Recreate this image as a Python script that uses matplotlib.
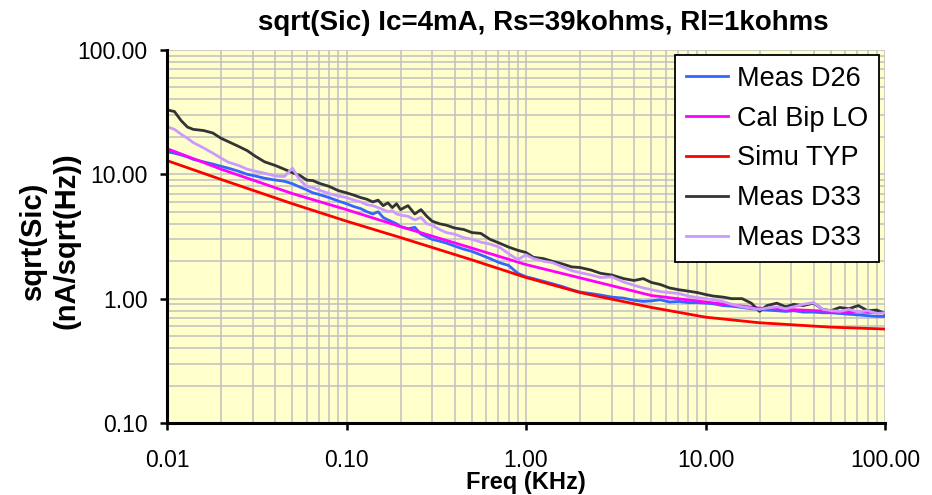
import numpy as np
import matplotlib
matplotlib.use("Agg")
import matplotlib.pyplot as plt
from matplotlib.ticker import LogLocator, NullFormatter


# ---------------------------------------------------------
# Data (freq in KHz, noise in nA/sqrt(Hz))
# ---------------------------------------------------------
meas_freq = [0.010, 0.011, 0.012, 0.013, 0.014, 0.016, 0.018, 0.020, 0.022, 0.025,
             0.028, 0.031, 0.035, 0.040, 0.045, 0.050, 0.055, 0.060, 0.065, 0.070,
             0.080, 0.090, 0.10, 0.11, 0.12, 0.13, 0.14, 0.15, 0.16, 0.17,
             0.18, 0.19, 0.20, 0.22, 0.24, 0.26, 0.28, 0.30, 0.33, 0.36,
             0.40, 0.45, 0.50, 0.56, 0.63, 0.71, 0.80, 0.90, 1.0, 1.1,
             1.25, 1.4, 1.6, 1.8, 2.0, 2.3, 2.6, 3.0, 3.5, 4.0,
             4.5, 5.0, 5.6, 6.3, 7.1, 8.0, 9.0, 10, 11, 12.5,
             14, 16, 18, 20, 22, 25, 28, 31, 35, 40,
             45, 50, 56, 63, 71, 80, 90, 100]

meas_d26 = [15.2, 14.8, 14.3, 13.8, 13.2, 12.6, 12.1, 11.6, 11.2, 10.6,
            10.0, 9.7, 9.3, 9.0, 8.8, 8.4, 7.9, 7.5, 7.1, 6.9,
            6.5, 6.1, 5.8, 5.5, 5.3, 5.0, 4.8, 5.0, 4.5, 4.3,
            4.15, 4.0, 3.8, 3.65, 3.75, 3.3, 3.15, 3.0, 2.9, 2.8,
            2.65, 2.5, 2.4, 2.25, 2.1, 1.95, 1.85, 1.6, 1.5, 1.45,
            1.38, 1.32, 1.25, 1.18, 1.13, 1.10, 1.07, 1.03, 1.01, 0.97,
            0.95, 0.96, 0.98, 0.94, 0.95, 0.93, 0.93, 0.92, 0.91, 0.88,
            0.87, 0.85, 0.83, 0.82, 0.81, 0.80, 0.79, 0.80, 0.78, 0.78,
            0.77, 0.77, 0.76, 0.75, 0.74, 0.73, 0.72, 0.72]

meas_d33_a = [33, 32, 27, 24, 23, 22.5, 21.5, 19.5, 18.3, 16.8,
              15.5, 14.0, 12.6, 11.8, 11.0, 10.3, 9.8, 9.0, 8.9, 8.5,
              8.0, 7.4, 7.1, 6.8, 6.5, 6.3, 6.0, 6.2, 5.6, 5.9,
              5.4, 5.8, 5.2, 5.6, 4.8, 5.2, 4.6, 4.2, 4.0, 3.9,
              3.7, 3.6, 3.4, 3.35, 3.0, 2.8, 2.6, 2.45, 2.35, 2.15,
              2.1, 2.0, 1.9, 1.8, 1.78, 1.7, 1.6, 1.55, 1.45, 1.40,
              1.45, 1.35, 1.30, 1.22, 1.18, 1.15, 1.12, 1.08, 1.05, 1.03,
              1.0, 1.0, 0.92, 0.79, 0.88, 0.92, 0.86, 0.90, 0.88, 0.92,
              0.82, 0.80, 0.85, 0.83, 0.88, 0.80, 0.81, 0.76]

meas_d33_b = [24.2, 23, 21, 19.5, 18, 16.3, 14.8, 13.5, 12.5, 11.8,
              11.0, 10.6, 10.2, 9.7, 9.6, 11.2, 9.0, 8.0, 7.8, 7.5,
              7.0, 6.7, 6.5, 6.2, 6.0, 5.7, 5.6, 5.4, 5.2, 5.0,
              5.1, 4.8, 4.7, 4.6, 4.3, 4.5, 4.0, 3.9, 3.6, 3.4,
              3.3, 3.1, 3.0, 2.85, 2.75, 2.6, 2.3, 2.06, 2.25, 2.1,
              2.0, 1.95, 1.8, 1.68, 1.62, 1.55, 1.48, 1.5, 1.36, 1.28,
              1.22, 1.18, 1.14, 1.12, 1.10, 1.05, 1.02, 1.0, 0.98, 0.95,
              0.90, 0.86, 0.84, 0.82, 0.84, 0.86, 0.83, 0.86, 0.90, 0.93,
              0.82, 0.80, 0.79, 0.82, 0.78, 0.80, 0.76, 0.77]

model_freq = [0.01, 0.02, 0.05, 0.1, 0.2, 0.5, 1, 2, 5, 10, 20, 50, 100]
cal_bip_lo = [16.1, 11.0, 7.0, 5.2, 3.8, 2.55, 1.88, 1.47, 1.06, 0.94, 0.84, 0.79, 0.77]
simu_typ = [12.9, 9.1, 5.8, 4.2, 3.1, 2.05, 1.48, 1.12, 0.85, 0.71, 0.64, 0.59, 0.57]

x_ticks = [0.01, 0.1, 1, 10, 100]
x_tick_labels = ["0.01", "0.10", "1.00", "10.00", "100.00"]
y_ticks = [0.1, 1, 10, 100]
y_tick_labels = ["0.10", "1.00", "10.00", "100.00"]


# ---------------------------------------------------------
# Plot
# ---------------------------------------------------------
def plot_noise():
    plt.rcParams["font.family"] = ["Liberation Sans", "DejaVu Sans"]

    fig = plt.figure(figsize=(9.32, 4.95), dpi=100)
    ax = fig.add_axes([167 / 932, 1 - 423 / 495, 718 / 932, 373 / 495])
    ax.set_facecolor("#ffffcc")

    lw = 2.0
    ax.plot(meas_freq, meas_d26, color="#3366ff", lw=lw, label="Meas D26")
    ax.plot(model_freq, cal_bip_lo, color="#ff00ff", lw=lw, label="Cal Bip LO")
    ax.plot(model_freq, simu_typ, color="#ff0000", lw=lw, label="Simu TYP")
    ax.plot(meas_freq, meas_d33_a, color="#333333", lw=lw, label="Meas D33")
    ax.plot(meas_freq, meas_d33_b, color="#cc99ff", lw=lw, label="Meas D33")

    ax.set_xscale("log")
    ax.set_yscale("log")
    ax.set_xlim(0.01, 100)
    ax.set_ylim(0.1, 100)

    ax.set_xticks(x_ticks)
    ax.set_xticklabels(x_tick_labels)
    ax.set_yticks(y_ticks)
    ax.set_yticklabels(y_tick_labels)
    ax.xaxis.set_minor_locator(LogLocator(base=10, subs=np.arange(2, 10)))
    ax.yaxis.set_minor_locator(LogLocator(base=10, subs=np.arange(2, 10)))
    ax.xaxis.set_minor_formatter(NullFormatter())
    ax.yaxis.set_minor_formatter(NullFormatter())

    ax.tick_params(which="major", direction="out", length=5, width=1.8,
                   labelsize=16.5, colors="black")
    ax.tick_params(axis="x", which="major", pad=14)
    ax.tick_params(axis="y", which="major", pad=9)
    ax.tick_params(which="minor", length=0)

    ax.grid(True, which="both", color="#c0c0c0", lw=1.1)
    ax.set_axisbelow(True)

    for side in ["top", "right"]:
        ax.spines[side].set_visible(False)
    for side in ["left", "bottom"]:
        ax.spines[side].set_linewidth(2.2)
        ax.spines[side].set_color("black")
        ax.spines[side].set_zorder(5)

    leg = ax.legend(loc="upper right", bbox_to_anchor=(879 / 932, 1 - 55 / 495),
                    bbox_transform=fig.transFigure, fontsize=19.5, frameon=True,
                    fancybox=False, framealpha=1, edgecolor="black",
                    handlelength=1.55, handletextpad=0.33, labelspacing=0.51,
                    borderpad=0.4, borderaxespad=0)
    leg.get_frame().set_linewidth(1.3)
    for line in leg.get_lines():
        line.set_linewidth(2.0)

    fig.text(543 / 932, 1 - 23 / 495, "sqrt(Sic) Ic=4mA, Rs=39kohms, Rl=1kohms",
             ha="center", va="center", fontsize=20, fontweight="bold")
    fig.text(50 / 932, 1 - 241 / 495, "sqrt(Sic)\n(nA/sqrt(Hz))",
             ha="center", va="center", rotation=90, multialignment="center",
             fontsize=21, fontweight="bold", linespacing=1.25)
    fig.text(526 / 932, 1 - 482 / 495, "Freq (KHz)",
             ha="center", va="center", fontsize=17, fontweight="bold")

    fig.savefig("out.png", dpi=100)


if __name__ == "__main__":
    plot_noise()
